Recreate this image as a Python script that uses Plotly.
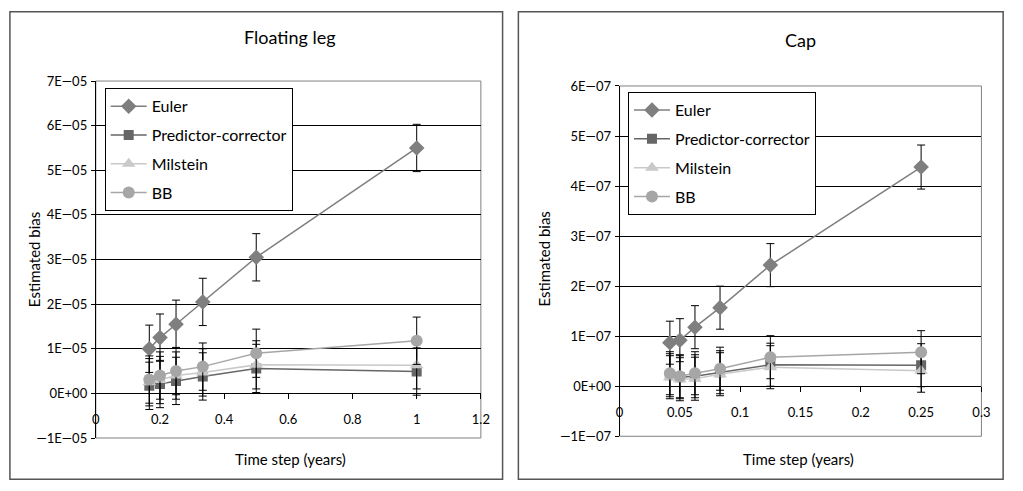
import plotly.graph_objects as go

W, H = 1023, 491

# ---------------- data ----------------
series_names = ["Euler", "Predictor-corrector", "Milstein", "BB"]

fl_x = [0.1667, 0.2, 0.25, 0.3333, 0.5, 1.0]
fl_euler = [1.00e-5, 1.25e-5, 1.55e-5, 2.05e-5, 3.05e-5, 5.50e-5]
fl_pc = [0.17e-5, 0.21e-5, 0.28e-5, 0.38e-5, 0.56e-5, 0.49e-5]
fl_mil = [0.25e-5, 0.30e-5, 0.40e-5, 0.47e-5, 0.64e-5, 0.63e-5]
fl_bb = [0.31e-5, 0.40e-5, 0.50e-5, 0.60e-5, 0.90e-5, 1.18e-5]
fl_err_euler = [0.53e-5, 0.53e-5, 0.54e-5, 0.53e-5, 0.53e-5, 0.53e-5]
fl_err_pc = [0.53e-5, 0.53e-5, 0.53e-5, 0.53e-5, 0.54e-5, 0.53e-5]
fl_err_mil = [0.53e-5, 0.53e-5, 0.53e-5, 0.53e-5, 0.54e-5, 0.53e-5]
fl_err_bb = [0.53e-5, 0.53e-5, 0.53e-5, 0.53e-5, 0.54e-5, 0.53e-5]

cap_x = [0.0417, 0.05, 0.0625, 0.0833, 0.125, 0.25]
cap_euler = [0.87e-7, 0.92e-7, 1.18e-7, 1.57e-7, 2.42e-7, 4.38e-7]
cap_pc = [0.22e-7, 0.18e-7, 0.20e-7, 0.28e-7, 0.43e-7, 0.42e-7]
cap_mil = [0.18e-7, 0.14e-7, 0.15e-7, 0.24e-7, 0.38e-7, 0.31e-7]
cap_bb = [0.26e-7, 0.20e-7, 0.26e-7, 0.35e-7, 0.58e-7, 0.68e-7]
cap_err_euler = [0.43e-7, 0.43e-7, 0.43e-7, 0.43e-7, 0.43e-7, 0.44e-7]
cap_err_pc = [0.43e-7, 0.43e-7, 0.43e-7, 0.43e-7, 0.43e-7, 0.43e-7]
cap_err_mil = [0.43e-7, 0.43e-7, 0.43e-7, 0.43e-7, 0.43e-7, 0.43e-7]
cap_err_bb = [0.43e-7, 0.43e-7, 0.43e-7, 0.43e-7, 0.43e-7, 0.43e-7]

fl_ytickvals = [-1e-5, 0, 1e-5, 2e-5, 3e-5, 4e-5, 5e-5, 6e-5, 7e-5]
fl_yticktext = ["\u20141E\u201405", "0E+00", "1E\u201405", "2E\u201405", "3E\u201405",
                "4E\u201405", "5E\u201405", "6E\u201405", "7E\u201405"]
fl_xtickvals = [0, 0.2, 0.4, 0.6, 0.8, 1.0, 1.2]
fl_xticktext = ["0", "0.2", "0.4", "0.6", "0.8", "1", "1.2"]

cap_ytickvals = [-1e-7, 0, 1e-7, 2e-7, 3e-7, 4e-7, 5e-7, 6e-7]
cap_yticktext = ["\u20141E\u201407", "0E+00", "1E\u201407", "2E\u201407", "3E\u201407",
                 "4E\u201407", "5E\u201407", "6E\u201407"]
cap_xtickvals = [0, 0.05, 0.1, 0.15, 0.2, 0.25, 0.3]
cap_xticktext = ["0", "0.05", "0.1", "0.15", "0.2", "0.25", "0.3"]

# ---------------- style ----------------
FONT = "Lato"
colors = ["#7f7f7f", "#666666", "#c9c9c9", "#a6a6a6"]
symbols = ["diamond", "square", "triangle-up", "circle"]
msizes = [12, 10, 12, 12]

fig = go.Figure()

def add_series(xv, ys, errs, xa, ya, leg):
    for i, (name, y, e) in enumerate(zip(series_names, ys, errs)):
        fig.add_trace(go.Scatter(
            x=xv, y=y, name=name, mode="lines+markers",
            xaxis=xa, yaxis=ya, legend=leg, legendgroup=leg + name,
            line=dict(color=colors[i], width=1.5),
            marker=dict(symbol=symbols[i], size=msizes[i], color=colors[i]),
            error_y=dict(type="data", array=e, visible=True, color="black",
                         thickness=1, width=4),
        ))

add_series(fl_x, [fl_euler, fl_pc, fl_mil, fl_bb],
           [fl_err_euler, fl_err_pc, fl_err_mil, fl_err_bb], "x", "y", "legend")
add_series(cap_x, [cap_euler, cap_pc, cap_mil, cap_bb],
           [cap_err_euler, cap_err_pc, cap_err_mil, cap_err_bb], "x2", "y2", "legend2")

def px(v):
    return v / W

def py(v):
    return 1 - v / H

L_x = [px(93), px(483)]
L_y = [py(444.5), py(75.5)]
R_x = [px(623.5), px(990)]
R_y = [py(442.7), py(80.6)]

fl_yrange = [-1e-5, 7e-5]
cap_yrange = [-1e-7, 6e-7]

def zero_pos(dom, rng):
    return dom[0] + (0 - rng[0]) / (rng[1] - rng[0]) * (dom[1] - dom[0])

tickfont = dict(family=FONT, size=13, color="black")

common_x = dict(showgrid=False, zeroline=False, showline=True, linecolor="black",
                linewidth=1, ticks="outside", ticklen=5, tickcolor="black",
                tickfont=tickfont, ticklabelstandoff=9, anchor="free")
common_y = dict(showgrid=True, gridcolor="black", gridwidth=1, zeroline=False,
                showline=True, linecolor="black", linewidth=1, ticks="outside",
                ticklen=4, tickcolor="black", tickfont=tickfont, ticklabelstandoff=1)

legend_common = dict(xanchor="left", yanchor="top", bgcolor="white", bordercolor="black",
                     borderwidth=1, font=dict(family=FONT, size=16), tracegroupgap=5,
                     itemwidth=36)

fig.update_layout(
    width=W, height=H, margin=dict(l=0, r=0, t=0, b=0),
    paper_bgcolor="white", plot_bgcolor="white",
    font=dict(family=FONT, color="black"),
    xaxis=dict(domain=L_x, range=[0, 1.2], tickvals=fl_xtickvals, ticktext=fl_xticktext,
               position=zero_pos(L_y, fl_yrange), **common_x),
    yaxis=dict(domain=L_y, range=fl_yrange, tickvals=fl_ytickvals, ticktext=fl_yticktext,
               anchor="x", **common_y),
    xaxis2=dict(domain=R_x, range=[0, 0.3], tickvals=cap_xtickvals, ticktext=cap_xticktext,
                position=zero_pos(R_y, cap_yrange), **common_x),
    yaxis2=dict(domain=R_y, range=cap_yrange, tickvals=cap_ytickvals, ticktext=cap_yticktext,
                anchor="x2", **common_y),
    legend=dict(x=px(102), y=py(83), **legend_common),
    legend2=dict(x=px(632), y=py(87), **legend_common),
    showlegend=True,
)

shapes = []
for xr, yr in (("x domain", "y domain"), ("x2 domain", "y2 domain")):
    shapes.append(dict(type="rect", xref=xr, yref=yr, x0=0, x1=1, y0=0, y1=1,
                       line=dict(color="#808080", width=1), layer="below"))
shapes.append(dict(type="rect", xref="paper", yref="paper", x0=px(6), x1=px(505),
                   y0=py(487), y1=py(4), line=dict(color="#555555", width=1.5)))
shapes.append(dict(type="rect", xref="paper", yref="paper", x0=px(521), x1=px(1012),
                   y0=py(487), y1=py(4), line=dict(color="#555555", width=1.5)))
fig.update_layout(shapes=shapes)

ann = [
    dict(text="Floating leg", x=px(290), y=py(30), xref="paper", yref="paper",
         showarrow=False, font=dict(family=FONT, size=18), xanchor="center", yanchor="middle"),
    dict(text="Cap", x=px(807), y=py(33), xref="paper", yref="paper",
         showarrow=False, font=dict(family=FONT, size=18), xanchor="center", yanchor="middle"),
    dict(text="Estimated bias", x=px(30), y=py(260), xref="paper", yref="paper", textangle=-90,
         showarrow=False, font=dict(family=FONT, size=15), xanchor="center", yanchor="middle"),
    dict(text="Estimated bias", x=px(546), y=py(260), xref="paper", yref="paper", textangle=-90,
         showarrow=False, font=dict(family=FONT, size=15), xanchor="center", yanchor="middle"),
    dict(text="Time step (years)", x=px(290), y=py(466), xref="paper", yref="paper",
         showarrow=False, font=dict(family=FONT, size=15), xanchor="center", yanchor="middle"),
    dict(text="Time step (years)", x=px(805), y=py(466), xref="paper", yref="paper",
         showarrow=False, font=dict(family=FONT, size=15), xanchor="center", yanchor="middle"),
]
fig.update_layout(annotations=ann)

fig.write_html("out.html")
